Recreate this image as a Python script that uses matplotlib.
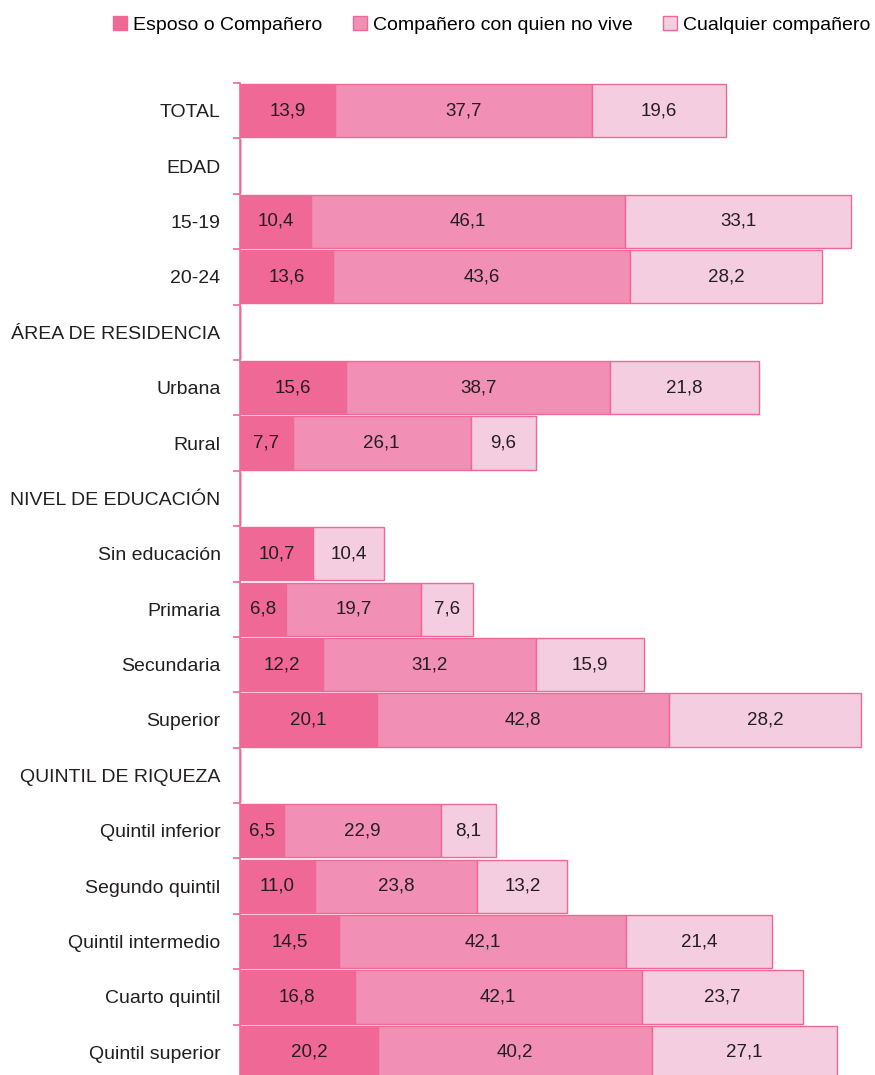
import numpy as np
import matplotlib.pyplot as plt
from matplotlib import font_manager
from matplotlib.patches import Patch

# font: a narrow sans if available
names = {f.name for f in font_manager.fontManager.ttflist}
narrow = 'Liberation Sans Narrow' if 'Liberation Sans Narrow' in names else 'Liberation Sans'
plt.rcParams['font.family'] = [narrow, 'DejaVu Sans']

categories = ['TOTAL', 'EDAD', '15-19', '20-24', 'ÁREA DE RESIDENCIA', 'Urbana', 'Rural',
              'NIVEL DE EDUCACIÓN', 'Sin educación', 'Primaria', 'Secundaria', 'Superior',
              'QUINTIL DE RIQUEZA', 'Quintil inferior', 'Segundo quintil', 'Quintil intermedio',
              'Cuarto quintil', 'Quintil superior']
esposo = [13.9, None, 10.4, 13.6, None, 15.6, 7.7, None, 10.7, 6.8, 12.2, 20.1,
          None, 6.5, 11.0, 14.5, 16.8, 20.2]
no_vive = [37.7, None, 46.1, 43.6, None, 38.7, 26.1, None, None, 19.7, 31.2, 42.8,
           None, 22.9, 23.8, 42.1, 42.1, 40.2]
cualquier = [19.6, None, 33.1, 28.2, None, 21.8, 9.6, None, 10.4, 7.6, 15.9, 28.2,
             None, 8.1, 13.2, 21.4, 23.7, 27.1]
series_names = ['Esposo o Compañero', 'Compañero con quien no vive', 'Cualquier compañero']
colors = ['#F06895', '#F28FB5', '#F5CDE0']
edge = '#F06895'
txt = '#231F20'

fig = plt.figure(figsize=(8.75, 10.75), dpi=100)
# axes runs a few pixels past the bottom edge, like the reference (last bar is cut)
ax = fig.add_axes([240 / 875, -5 / 1075, 1 - 240 / 875, 997 / 1075])

n = len(categories)
y = np.arange(n)
left = np.zeros(n)
for vals, col in zip([esposo, no_vive, cualquier], colors):
    v = np.array([np.nan if x is None else x for x in vals])
    w = np.nan_to_num(v)
    ax.barh(y, w, left=left, height=0.96, color=col, edgecolor=edge, linewidth=1)
    for i, val in enumerate(v):
        if not np.isnan(val):
            ax.text(left[i] + val / 2, y[i], f'{val:.1f}'.replace('.', ','),
                    ha='center', va='center', fontsize=13.5, color=txt)
    left = left + w

ax.set_ylim(n - 0.5, -0.5)
ax.set_xlim(0, 93.1)
ax.set_yticks(y)
ax.set_yticklabels(categories, fontsize=14, color=txt)
ax.tick_params(axis='y', which='major', length=0, pad=14)
ax.set_yticks(np.arange(n + 1) - 0.5, minor=True)
ax.tick_params(axis='y', which='minor', length=5, color=edge, width=1.2)
ax.set_xticks([])
for s in ['top', 'right', 'bottom']:
    ax.spines[s].set_visible(False)
ax.spines['left'].set_color(edge)
ax.spines['left'].set_linewidth(1.2)

handles = [Patch(facecolor=c, edgecolor=edge, label=l) for c, l in zip(colors, series_names)]
fig.legend(handles=handles, loc='center', bbox_to_anchor=(0.562, 1 - 25 / 1075), ncol=3,
           frameon=False, fontsize=14, handlelength=0.7, handleheight=0.7,
           handletextpad=0.3, columnspacing=1.6, borderpad=0.1)

fig.savefig('out.png', dpi=100)
